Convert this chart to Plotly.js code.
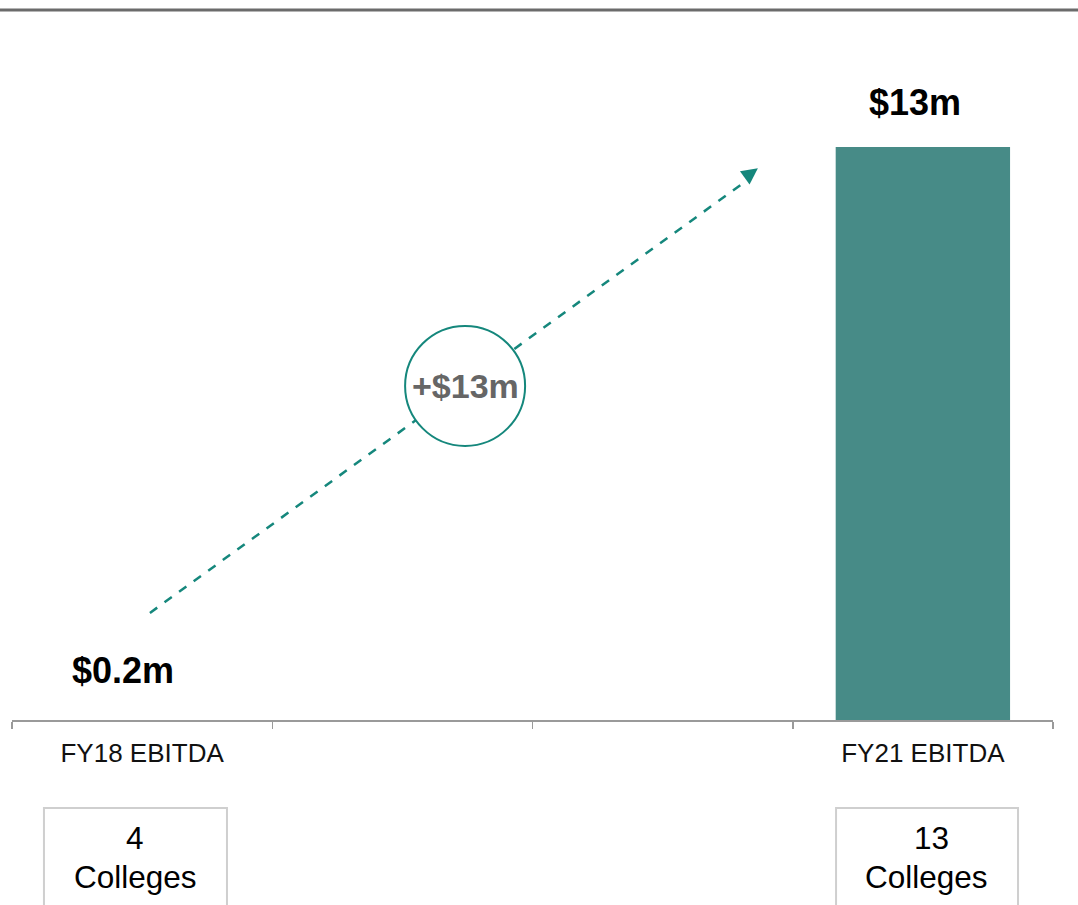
<!DOCTYPE html>
<html>
<head>
<meta charset="utf-8">
<script src="https://cdn.plot.ly/plotly-3.0.1.min.js"></script>
<style>
  html, body { margin: 0; padding: 0; background: #ffffff; }
  #chart { width: 1078px; height: 905px; }
</style>
</head>
<body>
<div id="chart"></div>
<script>
// ---- data ----
var categories = ['FY18 EBITDA', ' ', '  ', 'FY21 EBITDA'];
var ebitda = [0.2, null, null, 13];
var valueLabels = ['$0.2m', '', '', '$13m'];
var colleges = [4, 13];
var collegeWord = 'Colleges';
var changeLabel = '+$13m';

// ---- styles ----
var TEAL = '#15877c';
var BAR = '#478b87';
var FONT = 'Liberation Sans, Arial, Helvetica, sans-serif';

var trace = {
  type: 'bar',
  x: categories,
  y: ebitda,
  width: 0.67,
  marker: { color: ['rgba(0,0,0,0)', BAR, BAR, BAR], line: { width: 0 } },
  hoverinfo: 'skip'
};

function boxText(x, y, txt) {
  return { x: x, y: y, xref: 'paper', yref: 'paper', text: txt, showarrow: false,
    xanchor: 'center', yanchor: 'middle',
    font: { family: FONT, size: 31.5, color: '#000' } };
}

var annotations = [
  { x: categories[3], y: ebitda[3], xref: 'x', yref: 'y', text: '<b>' + valueLabels[3] + '</b>',
    showarrow: false, yanchor: 'bottom', xanchor: 'center', yshift: 22, xshift: -8,
    font: { family: FONT, size: 36, color: '#000' } },
  { x: categories[0], y: ebitda[0], xref: 'x', yref: 'y', text: '<b>' + valueLabels[0] + '</b>',
    showarrow: false, yanchor: 'middle', xanchor: 'center', yshift: 41, xshift: -19,
    font: { family: FONT, size: 36, color: '#000' } },
  // arrowhead
  { x: 2.366, y: 12.52, xref: 'x', yref: 'y', text: '', showarrow: true,
    ax: -13, ay: 9.5, arrowhead: 2, arrowsize: 1.3, arrowwidth: 2.5, arrowcolor: TEAL, standoff: 0 },
  // circle label
  { x: 1.241, y: 7.58, xref: 'x', yref: 'y', text: '<b>' + changeLabel + '</b>', showarrow: false,
    xanchor: 'center', yanchor: 'middle',
    font: { family: FONT, size: 34, color: '#666666' } },
  // college boxes text
  boxText(0.1186, -0.1735, String(colleges[0])),
  boxText(0.1186, -0.2309, collegeWord),
  boxText(0.8835, -0.1735, String(colleges[1])),
  boxText(0.8785, -0.2309, collegeWord)
];

var shapes = [
  // top rule
  { type: 'line', xref: 'paper', yref: 'paper', x0: -0.02, x1: 1.03, y0: 1.044, y1: 1.044,
    line: { color: '#6b6b6b', width: 3 } },
  // dashed growth arrow line
  { type: 'line', xref: 'x', yref: 'y', x0: 0.03, y0: 2.43, x1: 2.33, y1: 12.27,
    line: { color: TEAL, width: 2.5, dash: 'dash' } },
  // circle
  { type: 'circle', xref: 'x', yref: 'y', xsizemode: 'pixel', ysizemode: 'pixel',
    xanchor: 1.241, yanchor: 7.58, x0: -60, x1: 60, y0: -60, y1: 60,
    fillcolor: '#ffffff', line: { color: TEAL, width: 2 } },
  // college boxes
  { type: 'rect', xref: 'paper', yref: 'paper', x0: 0.0307, x1: 0.2065, y0: -0.1294, y1: -0.32,
    line: { color: '#cfcfcf', width: 2 }, fillcolor: 'rgba(0,0,0,0)' },
  { type: 'rect', xref: 'paper', yref: 'paper', x0: 0.7916, x1: 0.9664, y0: -0.1294, y1: -0.32,
    line: { color: '#cfcfcf', width: 2 }, fillcolor: 'rgba(0,0,0,0)' }
];

var layout = {
  width: 1078, height: 905,
  margin: { l: 12, r: 25, t: 40, b: 185 },
  paper_bgcolor: '#ffffff', plot_bgcolor: '#ffffff',
  showlegend: false,
  font: { family: FONT },
  xaxis: {
    type: 'category', categoryorder: 'array', categoryarray: categories,
    range: [-0.5, 3.5], fixedrange: true,
    showline: true, linecolor: '#9a9a9a', linewidth: 1.5,
    ticks: 'outside', tickson: 'boundaries', ticklen: 7, tickcolor: '#9a9a9a', tickwidth: 1.5,
    ticklabelstandoff: 9,
    showgrid: false, zeroline: false,
    tickfont: { family: FONT, size: 26, color: '#111' }
  },
  yaxis: { visible: false, range: [0, 15.43], fixedrange: true, showgrid: false, zeroline: false },
  shapes: shapes,
  annotations: annotations
};

Plotly.newPlot('chart', [trace], layout, { displayModeBar: false, staticPlot: true });
</script>
</body>
</html>
